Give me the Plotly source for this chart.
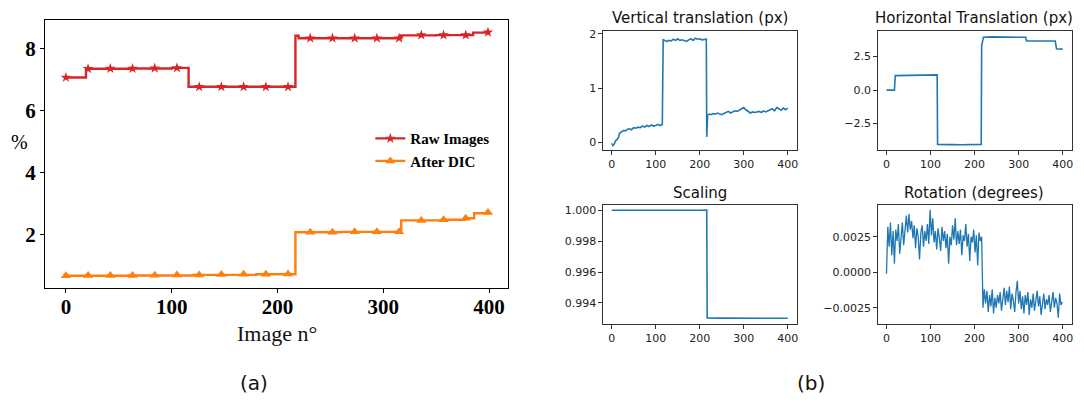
import plotly.graph_objects as go

# ---- panel (a): error in % vs image number ----
raw_x = [0, 19, 60, 100, 116, 170, 217, 220, 260, 317, 350, 385, 399]
raw_y = [7.07, 7.35, 7.36, 7.38, 6.77, 6.77, 8.42, 8.34, 8.34, 8.43, 8.44, 8.52, 8.53]
dic_x = [0, 60, 120, 180, 217, 260, 317, 360, 377, 386, 399]
dic_y = [0.66, 0.67, 0.69, 0.71, 2.07, 2.08, 2.45, 2.47, 2.52, 2.68, 2.71]
mark_x = [0, 21, 42, 63, 84, 105, 126, 147, 168, 189, 210, 231, 252, 273, 294, 315, 336, 357, 378, 399]
raw_mark = [7.07, 7.35, 7.36, 7.36, 7.37, 7.38, 6.77, 6.77, 6.77, 6.77, 6.77,
            8.34, 8.34, 8.34, 8.34, 8.34, 8.44, 8.44, 8.44, 8.53]
dic_mark = [0.66, 0.67, 0.67, 0.67, 0.68, 0.69, 0.69, 0.70, 0.71, 0.71, 0.72,
            2.07, 2.07, 2.08, 2.08, 2.08, 2.45, 2.47, 2.52, 2.71]

# ---- panel (b): transform parameters ----
vt_x = [0, 3, 6, 9, 12, 15, 18, 21, 24, 28, 32, 36, 40, 45, 50, 55, 60, 65, 70, 75, 80, 85, 90, 95,
        100, 105, 110, 115, 117, 120, 125, 130, 135, 140, 145, 150, 155, 160, 165, 170, 175, 180,
        185, 190, 195, 200, 205, 210, 215, 216, 217, 218, 222, 226, 230, 235, 240, 245, 250, 255,
        260, 265, 270, 275, 280, 285, 290, 295, 300, 305, 310, 315, 320, 325, 330, 335, 340, 345,
        350, 355, 360, 365, 370, 375, 380, 385, 390, 395, 400]
vt_y = [-0.02, -0.06, -0.03, 0.03, 0.05, 0.08, 0.17, 0.19, 0.21, 0.22, 0.21, 0.24, 0.25, 0.23,
        0.27, 0.26, 0.28, 0.27, 0.30, 0.28, 0.31, 0.29, 0.32, 0.30, 0.31, 0.33, 0.31, 0.33, 1.89,
        1.88, 1.86, 1.88, 1.87, 1.90, 1.88, 1.91, 1.88, 1.89, 1.87, 1.86, 1.89, 1.91, 1.88, 1.92,
        1.90, 1.91, 1.89, 1.90, 1.90, 0.10, 0.22, 0.50, 0.52, 0.51, 0.53, 0.52, 0.54, 0.53, 0.51,
        0.53, 0.55, 0.57, 0.54, 0.56, 0.58, 0.57, 0.59, 0.62, 0.64, 0.60, 0.57, 0.54, 0.56, 0.55,
        0.56, 0.57, 0.55, 0.58, 0.56, 0.58, 0.59, 0.62, 0.58, 0.64, 0.62, 0.59, 0.63, 0.60, 0.63]

ht_x = [0, 10, 18, 20, 40, 60, 80, 100, 115, 116, 130, 150, 170, 190, 215, 216, 218, 220, 240,
        260, 280, 300, 316, 318, 340, 360, 383, 386, 400]
ht_y = [0.0, 0.01, 0.0, 1.08, 1.10, 1.11, 1.12, 1.13, 1.14, -4.05, -4.08, -4.07, -4.08, -4.06,
        -4.05, 3.30, 3.85, 3.95, 3.97, 3.96, 3.95, 3.95, 3.94, 3.66, 3.65, 3.64, 3.66, 3.08, 3.06]

sc_x = [0, 50, 100, 150, 200, 216, 217, 250, 300, 350, 400]
sc_y = [1.00001, 1.0, 1.00001, 1.0, 1.00001, 1.00002, 0.99301, 0.99300, 0.99301, 0.99299, 0.99299]

rot_x = list(range(0, 400, 3))
rot_y = [-0.0001, 0.0032, 0.0018, 0.0035, 0.0012, 0.0029, 0.0006, 0.0030, 0.0022, 0.0034,
         0.0013, 0.0026, 0.0035, 0.0019, 0.0030, 0.0040, 0.0028, 0.0041, 0.0030, 0.0036,
         0.0024, 0.0033, 0.0017, 0.0031, 0.0025, 0.0009, 0.0028, 0.0033, 0.0018, 0.0029,
         0.0022, 0.0034, 0.0020, 0.0044, 0.0026, 0.0038, 0.0021, 0.0029, 0.0016, 0.0031,
         0.0024, 0.0015, 0.0032, 0.0022, 0.0029, 0.0017, 0.0027, 0.0006, 0.0025, 0.0019,
         0.0033, 0.0023, 0.0038, 0.0019, 0.0029, 0.0020, 0.0030, 0.0012, 0.0026, 0.0022,
         0.0034, 0.0018, 0.0027, 0.0008, 0.0025, 0.0021, 0.0030, 0.0014, 0.0026, 0.0005,
         0.0028, 0.0022, 0.0025,
         -0.0025, -0.0012, -0.0022, -0.0013, -0.0028, -0.0016, -0.0024, -0.0012, -0.0029,
         -0.0018, -0.0025, -0.0016, -0.0022, -0.0014, -0.0027, -0.0019, -0.0011, -0.0023,
         -0.0013, -0.0021, -0.0010, -0.0026, -0.0015, -0.0020, -0.0028, -0.0014, -0.0006,
         -0.0022, -0.0013, -0.0026, -0.0017, -0.0029, -0.0016, -0.0023, -0.0014, -0.0030,
         -0.0019, -0.0025, -0.0015, -0.0027, -0.0020, -0.0013, -0.0024, -0.0017, -0.0030,
         -0.0021, -0.0015, -0.0026, -0.0019, -0.0023, -0.0016, -0.0028, -0.0020, -0.0014,
         -0.0025, -0.0018, -0.0022, -0.0032, -0.0015, -0.0023, -0.0021]

RED = "#d62728"
ORANGE = "#ff7f0e"
BLUE = "#1f77b4"
SERIF = "Liberation Serif"
SANS = "DejaVu Sans"

fig = go.Figure()

# panel (a) traces
fig.add_trace(go.Scatter(x=raw_x, y=raw_y, mode="lines", line=dict(color=RED, width=2.4, shape="hv"),
                         showlegend=False, xaxis="x", yaxis="y"))
fig.add_trace(go.Scatter(x=mark_x, y=raw_mark, mode="markers",
                         marker=dict(symbol="star", size=8, color=RED), showlegend=False))
fig.add_trace(go.Scatter(x=dic_x, y=dic_y, mode="lines", line=dict(color=ORANGE, width=2.4, shape="hv"),
                         showlegend=False))
fig.add_trace(go.Scatter(x=mark_x, y=dic_mark, mode="markers",
                         marker=dict(symbol="triangle-up", size=9, color=ORANGE), showlegend=False))
# legend entries
fig.add_trace(go.Scatter(x=[None], y=[None], mode="lines+markers", name="Raw Images",
                         line=dict(color=RED, width=2.4), marker=dict(symbol="star", size=8, color=RED)))
fig.add_trace(go.Scatter(x=[None], y=[None], mode="lines+markers", name="After DIC",
                         line=dict(color=ORANGE, width=2.4),
                         marker=dict(symbol="triangle-up", size=9, color=ORANGE)))

# panel (b) traces
fig.add_trace(go.Scatter(x=vt_x, y=vt_y, mode="lines", line=dict(color=BLUE, width=1.6),
                         showlegend=False, xaxis="x2", yaxis="y2"))
fig.add_trace(go.Scatter(x=ht_x, y=ht_y, mode="lines", line=dict(color=BLUE, width=1.6),
                         showlegend=False, xaxis="x3", yaxis="y3"))
fig.add_trace(go.Scatter(x=sc_x, y=sc_y, mode="lines", line=dict(color=BLUE, width=1.6),
                         showlegend=False, xaxis="x4", yaxis="y4"))
fig.add_trace(go.Scatter(x=rot_x, y=rot_y, mode="lines", line=dict(color=BLUE, width=1.3),
                         showlegend=False, xaxis="x5", yaxis="y5"))

# the page body has an 8px margin, so the figure is sized to fill the rest of the window
OFF = 8
W, H = 1084 - OFF, 402 - OFF


def px_x(a, b):
    return [(a - OFF) / W, (b - OFF) / W]


def px_y(top, bottom):
    return [1 - (bottom - OFF) / H, 1 - (top - OFF) / H]


left_tick = dict(family=SERIF, size=21, color="black", weight="bold")
fig.update_layout(
    xaxis=dict(domain=px_x(45, 509), range=[-19.8, 418], tickvals=[0, 100, 200, 300, 400],
               showline=True, mirror=True, linecolor="black", linewidth=1, ticks="outside",
               ticklen=4, tickcolor="black", tickfont=left_tick, showgrid=False, zeroline=False,
               ticklabelstandoff=-4, anchor="y"),
    yaxis=dict(domain=px_y(17, 287), range=[0.27, 8.93], tickvals=[2, 4, 6, 8],
               showline=True, mirror=True, linecolor="black", linewidth=1, ticks="outside",
               ticklen=4, tickcolor="black", tickfont=left_tick, showgrid=False, zeroline=False,
               anchor="x"),
)

small_tick = dict(family=SANS, size=11, color="#222")


def small_axes(xdom, ydom, yrange, yvals, ytext, n):
    common = dict(showline=True, mirror=True, linecolor="#333", linewidth=1, ticks="outside",
                  ticklen=3.5, tickcolor="#333", tickwidth=1, tickfont=small_tick,
                  showgrid=False, zeroline=False)
    fig.update_layout({
        f"xaxis{n}": dict(domain=xdom, range=[-20, 420], tickvals=[0, 100, 200, 300, 400],
                          anchor=f"y{n}", **common),
        f"yaxis{n}": dict(domain=ydom, range=yrange, tickvals=yvals, ticktext=ytext,
                          anchor=f"x{n}", **common),
    })


small_axes(px_x(604, 798), px_y(28.3, 148.5), [-0.15, 2.05], [0, 1, 2], ["0", "1", "2"], 2)
small_axes(px_x(879.3, 1073.5), px_y(28.3, 148.5), [-4.5, 4.4], [-2.5, 0, 2.5],
           ["\u22122.5", "0.0", "2.5"], 3)
small_axes(px_x(604, 798), px_y(203.3, 323.5), [0.992613, 1.000368],
           [0.994, 0.996, 0.998, 1.0], ["0.994", "0.996", "0.998", "1.000"], 4)
small_axes(px_x(879.3, 1073.5), px_y(203.3, 323.5), [-0.00365, 0.00475],
           [-0.0025, 0, 0.0025], ["\u22120.0025", "0.0000", "0.0025"], 5)


def note(text, x, y, font):
    fig.add_annotation(text=text, x=(x - OFF) / W, y=1 - (y - OFF) / H, xref="paper", yref="paper",
                       showarrow=False, xanchor="center", yanchor="middle", font=font)


note("%", 20, 140, dict(family=SERIF, size=20, color="black"))
note("Image n°", 277, 333, dict(family=SERIF, size=22, color="#111"))
note("(a)", 254, 383, dict(family=SANS, size=20, color="#111"))
note("(b)", 812, 383, dict(family=SANS, size=20, color="#111"))
title_font = dict(family=SANS, size=15, color="#111")
note("Vertical translation (px)", 701, 15, title_font)
note("Horizontal Translation (px)", 976, 15, title_font)
note("Scaling", 701, 191, title_font)
note("Rotation (degrees)", 976, 191, title_font)

fig.update_layout(
    width=W, height=H, margin=dict(l=0, r=0, t=0, b=0),
    paper_bgcolor="white", plot_bgcolor="white",
    legend=dict(x=(371 - OFF) / W, y=1 - (120 - OFF) / H, xanchor="left", yanchor="top",
                bgcolor="rgba(0,0,0,0)", tracegroupgap=0,
                font=dict(family=SERIF, size=15, color="black", weight="bold")),
)

fig.write_html("out.html")
